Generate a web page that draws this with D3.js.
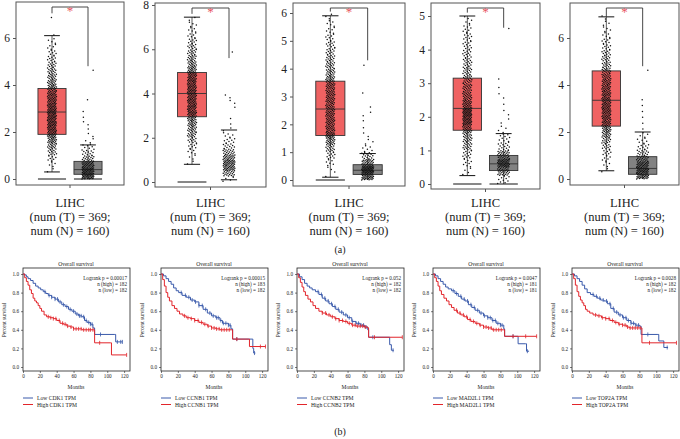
<!DOCTYPE html>
<html><head><meta charset="utf-8">
<script src="https://cdn.jsdelivr.net/npm/d3@7"></script>
<style>body{margin:0;background:#fff}svg{display:block}</style>
</head><body>
<svg id="c" width="680" height="439"></svg>
<script>
// ---------- DATA: box plots (a) ----------
const boxCancer = ["LIHC","LIHC","LIHC","LIHC","LIHC"];
const numT = [369,369,369,369,369];
const numN = [160,160,160,160,160];
const boxTicks = [[0,2,4,6],[0,2,4,6,8],[0,1,2,3,4,5,6],[0,1,2,3,4,5],[0,2,4,6]];
// [lower cap, Q1, median, Q3, upper cap]
const tumorStats = [[0.3,1.9,2.85,3.85,6.1],[0.8,2.95,4.0,4.95,7.45],[0.1,1.6,2.55,3.55,5.9],[0.25,1.6,2.25,3.15,5.0],[0.35,2.25,3.35,4.6,6.9]];
const normalStats = [[0,0.2,0.4,0.75,1.45],[0.1,null,null,null,2.35],[0,0.2,0.35,0.55,0.95],[0,0.4,0.6,0.85,1.5],[0,0.2,0.45,0.95,2.0]];
const tumorZeroLine = [true,true,true,true,false];
const normalZeroLine = [true,false,false,true,false];
// counts of points per 0.25 bin, starting at value given
const tumorBinStart = [0.25,0.75,0,0.25,0.25];
const tumorBins = [
 [2,4,7,11,15,20,24,26,28,28,28,26,24,22,20,17,15,13,11,9,7,5,4,1,0,0,1],
 [2,3,5,7,10,13,15,17,19,23,23,23,23,24,23,23,22,18,15,13,11,10,8,6,5,4,2],
 [1,3,6,10,15,22,28,24,24,24,22,23,23,23,22,18,16,14,12,10,8,6,5,3],
 [4,8,12,18,22,28,40,45,30,25,22,20,17,15,13,11,10,8,5],
 [2,4,6,8,10,13,17,20,22,23,24,24,22,22,21,20,18,16,13,12,10,8,7,5,4,3,2]
];
const normalBinStart = [0,0,0,0,0];
const normalBins = [
 [45,38,30,17,11,7,3,2,1,2,1,1,0,1,0,0,0,0,1],
 [4,18,30,32,25,17,11,8,5,2,1,1,0,1,2,2,0,0,0,0,0,0,0,1],
 [42,55,30,15,6,3,2,1,1,2,1,0,1,0,0,0,1],
 [10,32,50,30,14,10,4,2,2,1,2,1,1,0,0,0,0,0,1],
 [35,35,30,20,14,9,6,4,1,1,1,1,1,1,0,0,0,0,1]
];
const bracketEnds = [[7.05,4.8],[7.6,5.6],[6.05,4.3],[5.1,4.65],[6.9,4.8]];

// ---------- DATA: Kaplan-Meier (b) ----------
const kmGenes = ["CDK1","CCNB1","CCNB2","MAD2L1","TOP2A"];
const kmPvals = ["0.00017","0.00015","0.052","0.0047","0.0028"];
const kmNHigh = [182,183,182,181,182];
const kmNLow = [182,182,182,181,182];
const kmXTicks = [0,20,40,60,80,100,120];
const kmYTicks = [0,0.2,0.4,0.6,0.8,1.0];
const kmLow = [
 [[0,1],[2,0.99],[4,0.97],[6,0.95],[9,0.93],[12,0.9],[15,0.87],[18,0.85],[21,0.83],[24,0.81],[27,0.79],[30,0.77],[34,0.75],[38,0.73],[42,0.7],[46,0.67],[50,0.65],[54,0.62],[58,0.6],[62,0.57],[66,0.55],[70,0.54],[73,0.5],[76,0.48],[80,0.46],[83,0.42],[85,0.35],[109,0.35],[110,0.27],[118,0.27]],
 [[0,1],[3,0.98],[6,0.95],[9,0.92],[12,0.89],[15,0.85],[18,0.82],[21,0.8],[25,0.77],[30,0.75],[35,0.72],[40,0.7],[45,0.66],[50,0.62],[55,0.58],[60,0.55],[65,0.53],[70,0.5],[73,0.47],[80,0.45],[83,0.41],[85,0.3],[108,0.3],[109,0.2],[110,0.15],[112,0.15]],
 [[0,1],[3,0.97],[6,0.94],[9,0.9],[12,0.87],[15,0.85],[18,0.83],[22,0.81],[26,0.78],[30,0.74],[34,0.71],[38,0.68],[42,0.65],[46,0.62],[50,0.59],[55,0.56],[60,0.53],[65,0.49],[70,0.47],[75,0.45],[80,0.43],[84,0.4],[85,0.32],[108,0.32],[110,0.24],[112,0.18],[115,0.18]],
 [[0,1],[3,0.98],[6,0.95],[9,0.92],[12,0.89],[15,0.86],[18,0.84],[22,0.82],[26,0.79],[30,0.76],[34,0.73],[38,0.71],[42,0.67],[46,0.64],[50,0.61],[55,0.58],[60,0.55],[65,0.53],[70,0.5],[75,0.47],[80,0.45],[84,0.41],[85,0.33],[100,0.33],[101,0.25],[110,0.25],[111,0.17],[114,0.17]],
 [[0,1],[3,0.98],[6,0.95],[9,0.92],[12,0.88],[15,0.84],[18,0.8],[22,0.78],[26,0.76],[30,0.74],[34,0.72],[38,0.71],[42,0.68],[46,0.63],[50,0.59],[55,0.56],[60,0.53],[65,0.5],[70,0.47],[75,0.45],[80,0.44],[82,0.35],[102,0.35],[103,0.28],[108,0.28],[109,0.21],[114,0.21]]
];
const kmHigh = [
 [[0,1],[2,0.96],[4,0.92],[6,0.88],[8,0.83],[10,0.79],[12,0.74],[14,0.71],[16,0.69],[18,0.66],[20,0.63],[22,0.6],[25,0.56],[28,0.54],[32,0.53],[36,0.52],[40,0.5],[44,0.47],[48,0.46],[52,0.44],[56,0.43],[60,0.41],[70,0.4],[84,0.4],[85,0.26],[104,0.26],[105,0.13],[123,0.13]],
 [[0,1],[2,0.94],[4,0.87],[6,0.8],[8,0.75],[10,0.71],[13,0.66],[16,0.63],[19,0.6],[22,0.57],[26,0.55],[30,0.53],[35,0.52],[40,0.5],[45,0.48],[50,0.46],[55,0.44],[60,0.42],[65,0.41],[70,0.4],[84,0.4],[85,0.3],[104,0.3],[105,0.22],[124,0.22]],
 [[0,1],[2,0.96],[4,0.91],[6,0.86],[8,0.81],[10,0.77],[13,0.73],[16,0.7],[19,0.66],[22,0.63],[26,0.6],[30,0.58],[35,0.56],[40,0.54],[45,0.52],[50,0.5],[55,0.49],[60,0.47],[65,0.45],[70,0.44],[80,0.43],[84,0.42],[85,0.32],[125,0.32]],
 [[0,1],[2,0.96],[4,0.92],[6,0.87],[8,0.82],[10,0.78],[13,0.74],[16,0.71],[19,0.67],[22,0.64],[25,0.61],[29,0.58],[33,0.56],[37,0.54],[41,0.51],[45,0.49],[50,0.47],[55,0.45],[60,0.43],[65,0.42],[70,0.4],[84,0.4],[85,0.33],[123,0.33]],
 [[0,1],[2,0.95],[4,0.88],[6,0.81],[8,0.76],[10,0.72],[12,0.69],[14,0.66],[16,0.62],[18,0.6],[21,0.58],[25,0.56],[30,0.55],[35,0.53],[40,0.52],[45,0.5],[50,0.48],[55,0.46],[60,0.45],[65,0.43],[68,0.42],[82,0.42],[83,0.26],[124,0.26]]
];
const censorLow = [
 [26,31,34,38,41,44,48,52,56,60,64,67,69,72,75,78,80,82,92,112,116,118],
 [24,29,33,37,41,45,49,53,58,62,66,68,71,74,77,80,82,90,111],
 [25,29,33,37,41,45,49,53,58,62,66,70,73,76,79,82,90,114],
 [24,28,33,37,41,45,49,53,57,61,65,68,71,74,77,80,82,95,112],
 [25,29,33,37,41,45,49,53,57,61,64,67,70,73,76,79,90,113]
];
const censorHigh = [
 [30,33,36,39,43,47,50,53,57,60,63,66,69,72,75,78,80,83,91,123],
 [28,32,36,40,44,48,52,56,60,63,66,69,72,75,78,81,90,118,124],
 [30,34,38,42,46,50,54,58,62,66,69,72,75,78,81,92,125],
 [28,32,36,40,44,48,52,56,60,63,66,69,72,75,78,81,95,110,123],
 [28,32,36,40,44,48,52,56,60,63,66,69,72,75,78,81,92,124]
];

// ---------- LAYOUT ----------
const svg = d3.select("#c");
const serif = "'Liberation Serif','Times New Roman',serif";
const boxFrames = [
 {l:16,r:124,t:2,b:185,y0:179,y1:38},
 {l:155,r:266,t:3,b:187,y0:182,y1:5},
 {l:293,r:405,t:3,b:186,y0:180,y1:13},
 {l:431,r:540,t:3,b:189,y0:184,y1:16},
 {l:570,r:679,t:3,b:185,y0:179,y1:38}
];
const tumorFill = "#ef6262", normalFill = "#828282", dark = "#333";

boxFrames.forEach((f,i) => {
  const g = svg.append("g");
  const tks = boxTicks[i];
  const y = d3.scaleLinear().domain([0, tks[tks.length-1]]).range([f.y0, f.y1]);
  const x = d3.scalePoint().domain(["T","N"]).range([f.l, f.r]).padding(1);
  const bw = (f.r - f.l) * 0.26;
  g.append("rect").attr("x",f.l).attr("y",f.t).attr("width",f.r-f.l).attr("height",f.b-f.t)
    .attr("fill","none").attr("stroke","#555").attr("stroke-width",1);
  const ax = g.append("g").attr("transform",`translate(${f.l},0)`)
    .call(d3.axisLeft(y).tickValues(tks).tickSize(3).tickPadding(3).tickFormat(d3.format("d")));
  ax.select(".domain").remove();
  ax.selectAll("line").attr("stroke","#555");
  ax.selectAll("text").attr("font-family",serif).attr("font-size",11.5).attr("fill","#222");
  g.append("line").attr("x1",(f.l+f.r)/2).attr("x2",(f.l+f.r)/2).attr("y1",f.b).attr("y2",f.b+3).attr("stroke","#555");

  const groups = [
    {key:"T", st:tumorStats[i], fill:tumorFill, zero:tumorZeroLine[i], bins:tumorBins[i], start:tumorBinStart[i], spread:4.5},
    {key:"N", st:normalStats[i], fill:normalFill, zero:normalZeroLine[i], bins:normalBins[i], start:normalBinStart[i], spread:6}
  ];
  groups.forEach(gr => {
    const cx = x(gr.key);
    const st = gr.st;
    if (st[1] !== null) {
      g.append("line").attr("x1",cx).attr("x2",cx).attr("y1",y(st[0])).attr("y2",y(st[4])).attr("stroke",dark).attr("stroke-width",0.8);
      g.append("rect").attr("x",cx-bw/2).attr("y",y(st[3])).attr("width",bw).attr("height",y(st[1])-y(st[3]))
        .attr("fill",gr.fill).attr("stroke",dark).attr("stroke-width",0.9);
      g.append("line").attr("x1",cx-bw/2).attr("x2",cx+bw/2).attr("y1",y(st[2])).attr("y2",y(st[2])).attr("stroke",dark).attr("stroke-width",0.9);
    }
    let idx = 0;
    gr.bins.forEach((n,b) => {
      for (let k=0;k<n;k++) {
        const v = gr.start + b*0.25 + (k+0.5)/n*0.25;
        const off = (((idx*0.61803398875 + b*0.37) % 1) - 0.5) * 2 * gr.spread;
        g.append("circle").attr("cx",cx+off).attr("cy",y(v)).attr("r",0.75).attr("fill","#111");
        idx++;
      }
    });
    [st[0], st[4]].forEach(v => {
      if (v > 0.001) g.append("line").attr("x1",cx-bw*0.28).attr("x2",cx+bw*0.28).attr("y1",y(v)).attr("y2",y(v)).attr("stroke","#111").attr("stroke-width",1);
    });
    if (gr.zero) g.append("line").attr("x1",cx-bw/2).attr("x2",cx+bw/2).attr("y1",y(0)).attr("y2",y(0)).attr("stroke","#111").attr("stroke-width",1);
  });
  const bt = f.t + 5;
  const xl = x("T"), xr = x("N");
  g.append("path").attr("d",`M${xl},${y(bracketEnds[i][0])}V${bt}H${xr}V${y(bracketEnds[i][1])}`)
    .attr("fill","none").attr("stroke","#333").attr("stroke-width",0.9);
  g.append("text").attr("x",(xl+xr)/2).attr("y",bt+8).attr("text-anchor","middle")
    .attr("font-family",serif).attr("font-size",13).attr("fill","#e8525c").text("*");
  const cxm = (f.l+f.r)/2;
  const lbl = [boxCancer[i], `(num (T) = ${numT[i]};`, `num (N) = ${numN[i]})`];
  lbl.forEach((t,j) => g.append("text").attr("x",cxm).attr("y",207+j*14).attr("text-anchor","middle")
    .attr("font-family",serif).attr("font-size",12.5).attr("fill","#222").text(t));
});
svg.append("text").attr("x",340).attr("y",253).attr("text-anchor","middle").attr("font-family",serif).attr("font-size",10).attr("fill","#222").text("(a)");
svg.append("text").attr("x",340).attr("y",435).attr("text-anchor","middle").attr("font-family",serif).attr("font-size",10).attr("fill","#222").text("(b)");

// ---------- KM panels ----------
const kmX0 = [23,161,297,433,572];
const blue = "#3a5aab", red = "#e2252b";
kmX0.forEach((x0,i) => {
  const g = svg.append("g");
  const x = d3.scaleLinear().domain([0,127]).range([x0, x0+107]);
  const y = d3.scaleLinear().domain([0,1]).range([367,274]);
  const top = 268, bot = 371;
  g.append("rect").attr("x",x0).attr("y",top).attr("width",107).attr("height",bot-top)
    .attr("fill","none").attr("stroke","#222").attr("stroke-width",0.8);
  const ay = g.append("g").attr("transform",`translate(${x0},0)`)
    .call(d3.axisLeft(y).tickValues(kmYTicks).tickSize(2).tickPadding(2).tickFormat(d3.format(".1f")));
  ay.select(".domain").remove();
  ay.selectAll("line").attr("stroke","#222").attr("stroke-width",0.6);
  ay.selectAll("text").attr("font-family",serif).attr("font-size",5.2).attr("fill","#222");
  const axx = g.append("g").attr("transform",`translate(0,${bot})`)
    .call(d3.axisBottom(x).tickValues(kmXTicks).tickSize(2).tickPadding(1.5).tickFormat(d3.format("d")));
  axx.select(".domain").remove();
  axx.selectAll("line").attr("stroke","#222").attr("stroke-width",0.6);
  axx.selectAll("text").attr("font-family",serif).attr("font-size",5.2).attr("fill","#222");
  g.append("text").attr("x",x0+53).attr("y",389).attr("text-anchor","middle").attr("font-family",serif).attr("font-size",5.5).attr("fill","#222").text("Months");
  g.append("text").attr("transform",`translate(${x0-17},320) rotate(-90)`).attr("text-anchor","middle").attr("font-family",serif).attr("font-size",5.3).attr("fill","#222").text("Percent survival");
  g.append("text").attr("x",x0+53).attr("y",266).attr("text-anchor","middle").attr("font-family",serif).attr("font-size",5.5).attr("fill","#222").text("Overall survival");
  const info = [`Logrank p = ${kmPvals[i]}`, `n (high) = ${kmNHigh[i]}`, `n (low) = ${kmNLow[i]}`];
  info.forEach((t,j) => g.append("text").attr("x",x0+104).attr("y",280+j*6).attr("text-anchor","end")
    .attr("font-family",serif).attr("font-size",5.2).attr("fill","#222").text(t));
  const line = d3.line().x(d=>x(d[0])).y(d=>y(d[1])).curve(d3.curveStepAfter);
  const curves = [{d:kmLow[i], c:blue, cens:censorLow[i]},{d:kmHigh[i], c:red, cens:censorHigh[i]}];
  curves.forEach(cv => {
    g.append("path").attr("d",line(cv.d)).attr("fill","none").attr("stroke",cv.c).attr("stroke-width",1);
    cv.cens.forEach(m => {
      let s = cv.d[0][1];
      cv.d.forEach(p => { if (p[0] <= m) s = p[1]; });
      g.append("line").attr("x1",x(m)).attr("x2",x(m)).attr("y1",y(s)-2).attr("y2",y(s)+2).attr("stroke",cv.c).attr("stroke-width",0.8);
    });
  });
  const leg = [{t:`Low ${kmGenes[i]} TPM`, c:blue},{t:`High ${kmGenes[i]} TPM`, c:red}];
  leg.forEach((L,j) => {
    const ly = 398 + j*6.5;
    g.append("line").attr("x1",x0).attr("x2",x0+10).attr("y1",ly).attr("y2",ly).attr("stroke",L.c).attr("stroke-width",1);
    g.append("text").attr("x",x0+14).attr("y",ly+2).attr("font-family",serif).attr("font-size",5.6).attr("fill","#222").text(L.t);
  });
});
</script>
</body></html>
